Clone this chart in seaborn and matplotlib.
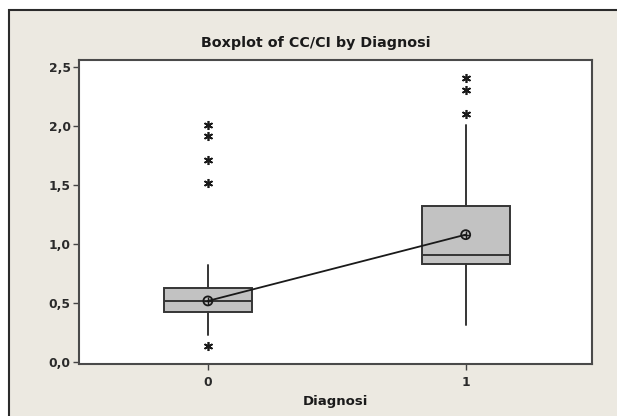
import matplotlib
matplotlib.use("Agg")
import matplotlib.pyplot as plt
import seaborn as sns
import pandas as pd
from matplotlib.patches import Rectangle
from matplotlib.ticker import FuncFormatter

# ---- data ----
groups = ["0", "1"]
q1 = [0.43, 0.83]
medians = [0.52, 0.91]
q3 = [0.63, 1.32]
whisk_low = [0.23, 0.32]
whisk_high = [0.82, 2.01]
means = [0.52, 1.08]
outliers_0 = [0.14, 1.52, 1.71, 1.91, 2.01]
outliers_1 = [2.10, 2.30, 2.40]
y_ticks = [0.0, 0.5, 1.0, 1.5, 2.0, 2.5]

sns.set_theme(style="white")
plt.rcParams['font.family'] = ['DejaVu Sans']

W, H = 617, 416
fig = plt.figure(figsize=(W / 100, H / 100), dpi=100, facecolor="white")

# outer panel
panel_col = "#ece9e1"
fig.patches.append(Rectangle((9 / W, -0.05), 1.2, 1 - 10 / H + 0.05,
                             transform=fig.transFigure, facecolor=panel_col,
                             edgecolor="#2b2b2b", linewidth=1.5, zorder=-5))

ax = fig.add_axes([79 / W, 1 - 364 / H, (592 - 79) / W, (364 - 60) / H])
ax.set_zorder(2)
ax.set_facecolor("white")

outliers = [outliers_0, outliers_1]
stats = []
for i in range(len(groups)):
    stats.append(dict(label=groups[i], q1=q1[i], med=medians[i], q3=q3[i],
                      whislo=whisk_low[i], whishi=whisk_high[i],
                      mean=means[i], fliers=outliers[i]))

edge = "#353535"
ax.bxp(stats, positions=[0, 1], widths=0.34, patch_artist=True,
       showcaps=False, showmeans=False, showfliers=True,
       boxprops=dict(facecolor="#c2c2c2", edgecolor=edge, linewidth=1.4),
       medianprops=dict(color=edge, linewidth=1.4),
       whiskerprops=dict(color=edge, linewidth=1.4),
       flierprops=dict(marker=(6, 2, 0), markersize=6.5, markeredgecolor="#1a1a1a",
                       markeredgewidth=1.2, linestyle="none"))

df_mean = pd.DataFrame({"x": [0, 1], "mean": means})
sns.lineplot(data=df_mean, x="x", y="mean", ax=ax, color="#1a1a1a",
             linewidth=1.3, zorder=5)
sns.scatterplot(data=df_mean, x="x", y="mean", ax=ax, marker="o", s=42,
                facecolor="none", edgecolor="#1a1a1a", linewidth=1.3, zorder=6)
sns.scatterplot(data=df_mean, x="x", y="mean", ax=ax, marker="+", s=28,
                color="#1a1a1a", linewidth=1.0, zorder=7)

ax.set_xlim(-0.5, 1.49)
ax.set_ylim(-0.013, 2.556)
ax.set_xticks([0, 1])
ax.set_xticklabels(groups)
ax.set_yticks(y_ticks)
ax.yaxis.set_major_formatter(FuncFormatter(lambda v, p: f"{v:.1f}".replace(".", ",")))

for s in ["top", "right", "left", "bottom"]:
    ax.spines[s].set_color("#4a4a4a")
    ax.spines[s].set_linewidth(1.5)
ax.tick_params(axis="both", which="both", direction="out", length=4, width=1,
               color="#444444", labelsize=8.8, labelcolor="#2a2a2a", pad=2,
               left=True, bottom=True)
for lab in ax.get_xticklabels() + ax.get_yticklabels():
    lab.set_fontweight("bold")
ax.tick_params(axis="x", pad=5)

ax.set_xlabel("Diagnosi", fontsize=9.5, fontweight="bold", color="#1a1a1a", labelpad=4)
ax.set_ylabel("")
fig.text(316 / W, 1 - 43 / H, "Boxplot of CC/CI by Diagnosi", ha="center", va="center",
         fontsize=10.3, fontweight="bold", color="#1a1a1a")

fig.savefig("out.png", dpi=100, facecolor="white")
